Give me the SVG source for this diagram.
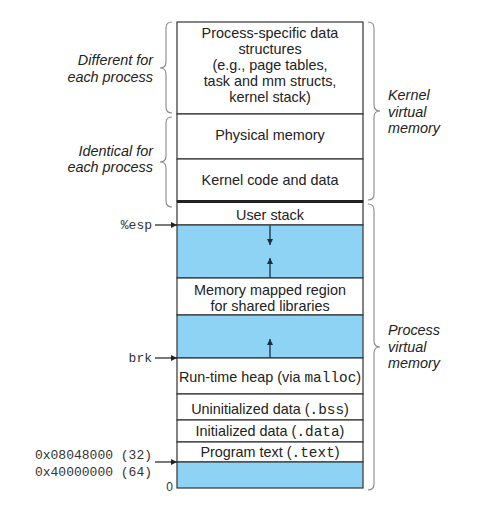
<svg xmlns="http://www.w3.org/2000/svg" width="494" height="523" viewBox="0 0 494 523">
<style>
.t{font-family:"Liberation Sans",Arial,sans-serif;font-size:14.4px;fill:#222;text-anchor:middle}
.m{font-family:"Liberation Mono","Courier New",monospace}
.lab{font-family:"Liberation Mono","Courier New",monospace;font-size:13px;fill:#333;text-anchor:end}
.it{font-family:"Liberation Sans",Arial,sans-serif;font-size:14.4px;font-style:italic;fill:#222}
.box{fill:#fff;stroke:#333;stroke-width:1.2}
.blue{fill:#8fd3f4;stroke:#333;stroke-width:1.2}
.br{fill:none;stroke:#888;stroke-width:1.1}
.ar{stroke:#1d2d44;stroke-width:1.3;fill:none}
</style>
<defs>
<marker id="ah" viewBox="0 0 10 10" refX="10" refY="5" markerWidth="6" markerHeight="6" markerUnits="userSpaceOnUse" orient="auto">
<path d="M0,0 L10,5 L0,10 z" fill="#1d2d44"/>
</marker>
<marker id="ahl" viewBox="0 0 10 10" refX="10" refY="5" markerWidth="7" markerHeight="6" markerUnits="userSpaceOnUse" orient="auto">
<path d="M0,0 L10,5 L0,10 z" fill="#222"/>
</marker>
</defs>
<g id="kernel-proc-data"><rect class="box" x="177" y="22" width="186" height="92"/>
<text class="t" x="270" y="37.5">Process-specific data</text>
<text class="t" x="270" y="53.7">structures</text>
<text class="t" x="270" y="69.9">(e.g., page tables,</text>
<text class="t" x="270" y="86.1">task and mm structs,</text>
<text class="t" x="270" y="102.3">kernel stack)</text></g>
<g id="physical-memory"><rect class="box" x="177" y="114" width="186" height="45"/>
<text class="t" x="270" y="139.5">Physical memory</text></g>
<g id="kernel-code"><rect class="box" x="177" y="159" width="186" height="42"/>
<text class="t" x="270" y="185">Kernel code and data</text></g>
<g id="user-stack"><rect class="box" x="177" y="201" width="186" height="24"/>
<text class="t" x="270" y="219.5">User stack</text></g>
<g id="gap1"><rect class="blue" x="177" y="225" width="186" height="53"/></g>
<g id="mmap"><rect class="box" x="177" y="278" width="186" height="37"/>
<text class="t" x="270" y="295">Memory mapped region</text>
<text class="t" x="270" y="310.5">for shared libraries</text></g>
<g id="gap2"><rect class="blue" x="177" y="315" width="186" height="43"/></g>
<g id="heap"><rect class="box" x="177" y="358" width="186" height="36"/>
<text class="t" x="270" y="382">Run-time heap (via <tspan class="m">malloc</tspan>)</text></g>
<g id="bss"><rect class="box" x="177" y="394" width="186" height="26"/>
<text class="t" x="270" y="413.5">Uninitialized data (<tspan class="m">.bss</tspan>)</text></g>
<g id="data"><rect class="box" x="177" y="420" width="186" height="22"/>
<text class="t" x="270" y="436">Initialized data (<tspan class="m">.data</tspan>)</text></g>
<g id="text-seg"><rect class="box" x="177" y="442" width="186" height="20"/>
<text class="t" x="270" y="457">Program text (<tspan class="m">.text</tspan>)</text></g>
<g id="gap3"><rect class="blue" x="177" y="462" width="186" height="26"/></g>
<line x1="177" y1="201.5" x2="363" y2="201.5" stroke="#222" stroke-width="3"/>
<g id="connectors">
<line class="ar" x1="270" y1="225.5" x2="270" y2="245" marker-end="url(#ah)"/>
<line class="ar" x1="270" y1="277.5" x2="270" y2="258" marker-end="url(#ah)"/>
<line class="ar" x1="270" y1="357.5" x2="270" y2="339" marker-end="url(#ah)"/>
<line x1="155" y1="225" x2="177" y2="225" stroke="#222" stroke-width="1.2" marker-end="url(#ahl)"/>
<line x1="155" y1="358" x2="177" y2="358" stroke="#222" stroke-width="1.2" marker-end="url(#ahl)"/>
<line x1="155" y1="462" x2="177" y2="462" stroke="#222" stroke-width="1.2" marker-end="url(#ahl)"/>
</g>
<g id="labels">
<text class="lab" x="152" y="229">%esp</text>
<text class="lab" x="152" y="362">brk</text>
<text class="lab" x="152" y="459">0x08048000 (32)</text>
<text class="lab" x="152" y="476">0x40000000 (64)</text>
<text x="173" y="491" font-family="Liberation Sans,Arial,sans-serif" font-size="12" fill="#333" text-anchor="end">0</text>
</g>
<g id="braces">
<path class="br" d="M172,22 Q166,22 166,28 L166,62 Q166,68 160,68 Q166,68 166,74 L166,107 Q166,113 172,113"/>
<path class="br" d="M172,117 Q166,117 166,123 L166,156 Q166,162 160,162 Q166,162 166,168 L166,201 Q166,207 172,207"/>
<path class="br" d="M368,22 Q374,22 374,28 L374,105 Q374,111 380,111 Q374,111 374,117 L374,194 Q374,200 368,200"/>
<path class="br" d="M368,204 Q374,204 374,210 L374,341 Q374,347 380,347 Q374,347 374,353 L374,484 Q374,490 368,490"/>
</g>
<g id="brace-labels">
<text class="it" x="153" y="65" text-anchor="end">Different for</text>
<text class="it" x="153" y="81.5" text-anchor="end">each process</text>
<text class="it" x="153" y="156" text-anchor="end">Identical for</text>
<text class="it" x="153" y="171.5" text-anchor="end">each process</text>
<text class="it" x="388" y="100">Kernel</text>
<text class="it" x="388" y="116.5">virtual</text>
<text class="it" x="388" y="133">memory</text>
<text class="it" x="388" y="335">Process</text>
<text class="it" x="388" y="351.5">virtual</text>
<text class="it" x="388" y="368">memory</text>
</g>
</svg>
